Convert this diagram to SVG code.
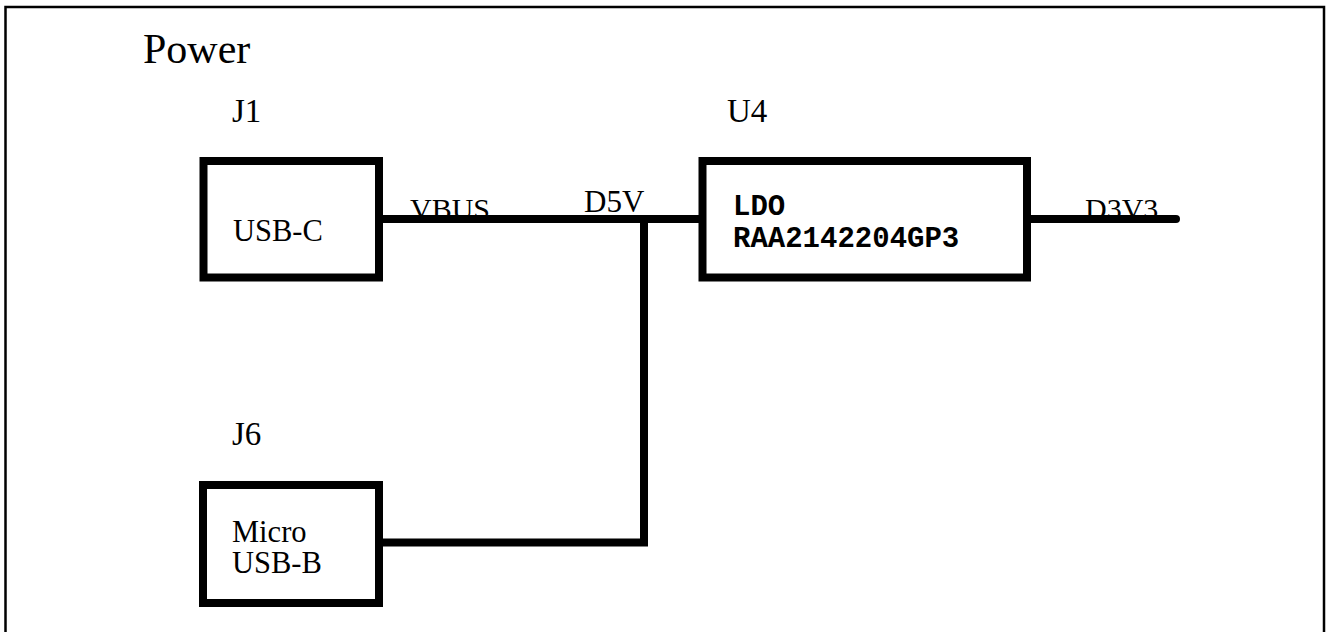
<svg xmlns="http://www.w3.org/2000/svg" width="1326" height="632" viewBox="0 0 1326 632">
<style>
.box{fill:none;stroke:#000;stroke-width:8}
.wire{fill:none;stroke:#000;stroke-width:8}
.t{font-family:"Liberation Serif","Times New Roman",serif;fill:#000}
.m{font-family:"Liberation Mono","Courier New",monospace;font-weight:bold;fill:#000}
</style>
<rect width="1326" height="632" fill="#fff"/>
<rect x="5.5" y="7" width="1318.5" height="640" fill="none" stroke="#000" stroke-width="2.5"/>
<text class="t" x="143" y="63" font-size="42">Power</text>
<g id="connectors">
<polyline class="wire" points="379,219 702,219"/>
<polyline class="wire" points="644,219 644,542.5 379,542.5"/>
<line class="wire" x1="1027" y1="219" x2="1176" y2="219" stroke-linecap="round"/>
<text class="t" x="410" y="219" font-size="30">VBUS</text>
<text class="t" x="584" y="212" font-size="31">D5V</text>
<text class="t" x="1085" y="219" font-size="30">D3V3</text>
</g>
<g id="J1">
<text class="t" x="232" y="122" font-size="33">J1</text>
<rect class="box" x="203.5" y="161" width="175.5" height="116.5"/>
<text class="t" x="233" y="241" font-size="30.5">USB-C</text>
</g>
<g id="U4">
<text class="t" x="727" y="122" font-size="33">U4</text>
<rect class="box" x="702.5" y="161" width="324.5" height="116.5"/>
<text class="m" x="733" y="215" font-size="29">LDO</text>
<text class="m" x="733" y="247" font-size="29">RAA2142204GP3</text>
</g>
<g id="J6">
<text class="t" x="232" y="445" font-size="33">J6</text>
<rect class="box" x="203" y="485" width="176" height="118"/>
<text class="t" x="232" y="542" font-size="30.5">Micro</text>
<text class="t" x="232" y="573" font-size="30.5">USB-B</text>
</g>
</svg>
